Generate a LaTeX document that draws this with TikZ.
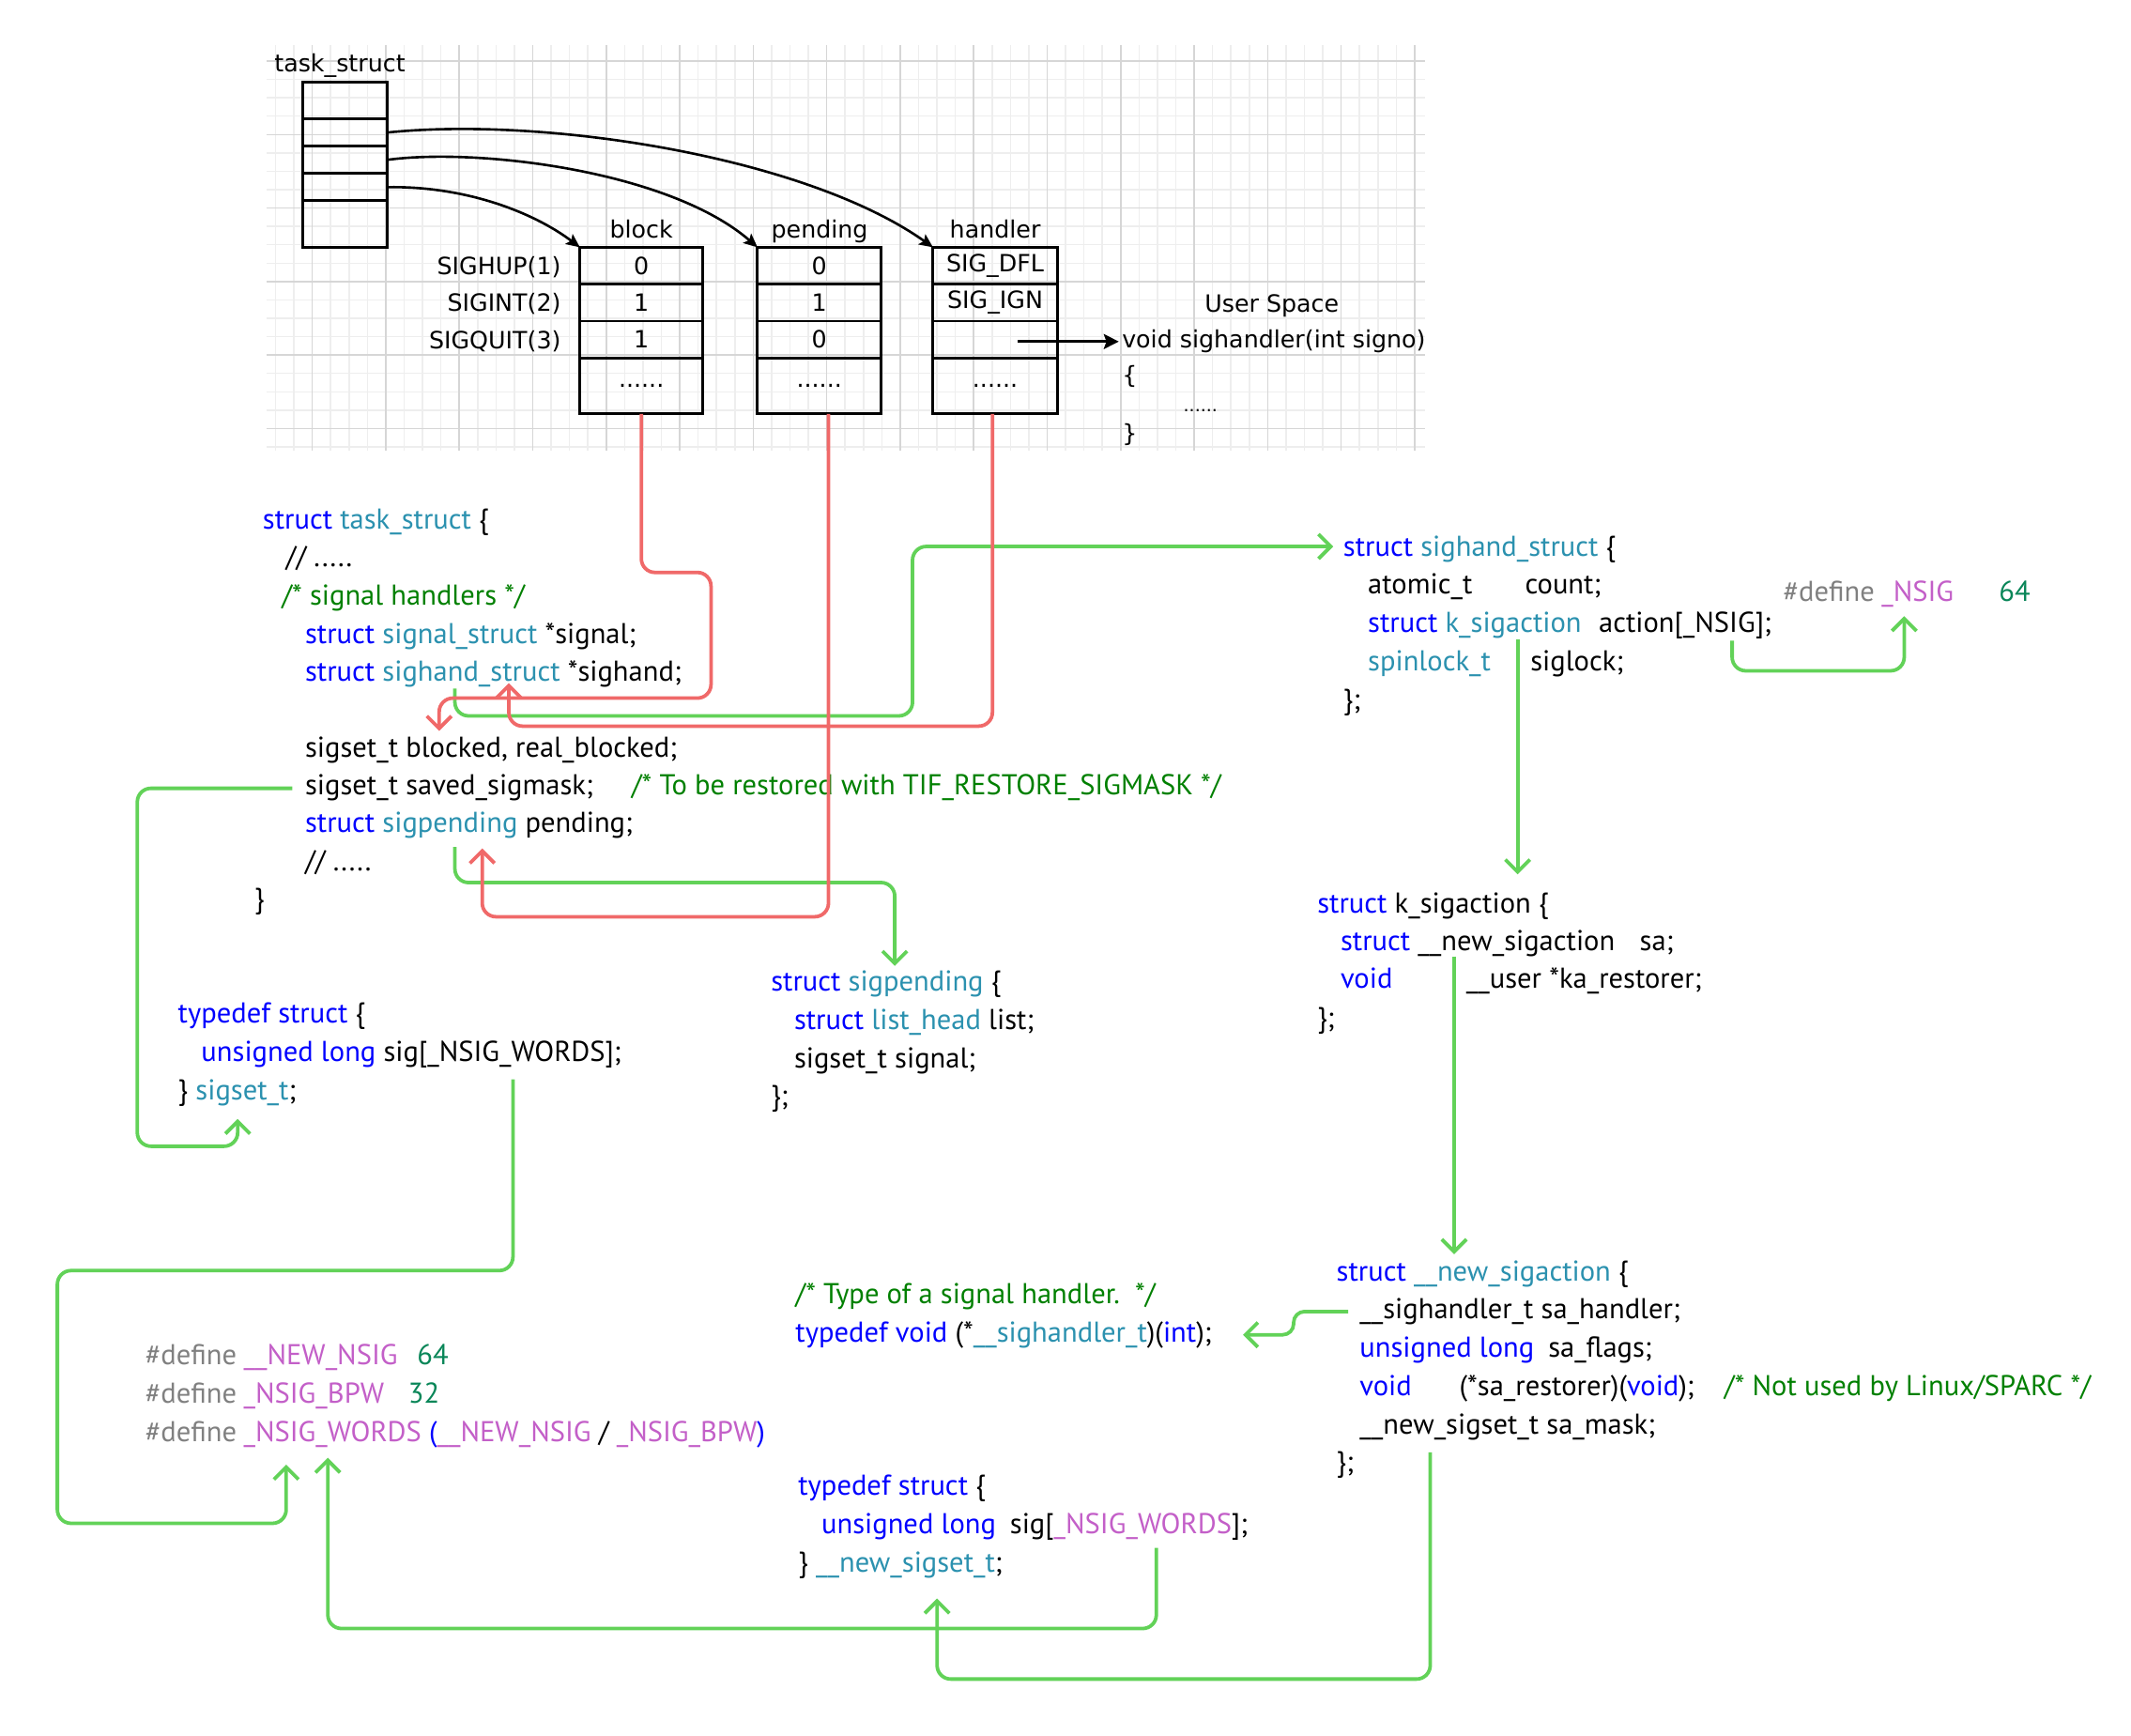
\documentclass[tikz,border=0pt]{standalone}
\usepackage{fontspec}
\setmainfont{PT Sans}
\newfontfamily\handfont{DejaVu Sans}
\usetikzlibrary{arrows.meta}
\definecolor{kwcol}{RGB}{0,0,255}
\definecolor{tycol}{RGB}{43,145,175}
\definecolor{cmcol}{RGB}{0,128,0}
\definecolor{ppcol}{RGB}{128,128,128}
\definecolor{mccol}{RGB}{195,95,200}
\definecolor{nmcol}{RGB}{9,134,88}
\definecolor{lgreen}{RGB}{98,210,88}
\definecolor{lred}{RGB}{240,105,105}
\definecolor{gmajor}{RGB}{214,214,214}
\definecolor{gminor}{RGB}{238,238,238}
\newcommand{\kwc}[1]{\textcolor{kwcol}{#1}}
\newcommand{\tyc}[1]{\textcolor{tycol}{#1}}
\newcommand{\cmc}[1]{\textcolor{cmcol}{#1}}
\newcommand{\ppc}[1]{\textcolor{ppcol}{#1}}
\newcommand{\mcc}[1]{\textcolor{mccol}{#1}}
\newcommand{\nmc}[1]{\textcolor{nmcol}{#1}}
\begin{document}
\begin{tikzpicture}[x=0.5pt,y=-0.5pt,
  code/.style={anchor=base west, inner sep=0pt, font=\fontsize{10.5}{12.5}\selectfont},
  hand/.style={inner sep=0pt, font=\handfont\fontsize{8.7}{10.5}\selectfont},
  cell/.style={draw, line width=1pt, inner sep=0pt, outer sep=0pt, anchor=north west, font=\handfont\fontsize{8.7}{10.5}\selectfont},
  blk/.style={line width=0.9pt, -{Stealth[length=5pt,width=4.5pt,inset=1pt]}},
  gline/.style={draw=lgreen, line width=1.3pt, rounded corners=5pt, -{Straight Barb[length=4.5pt,width=9pt]}},
  rline/.style={draw=lred, line width=1.3pt, rounded corners=5pt, -{Straight Barb[length=4.5pt,width=9pt]}},
  minorg/.style={draw=gminor, line width=0.5pt},
  majorg/.style={draw=gmajor, line width=0.5pt}]
\useasboundingbox (0,0) rectangle (1560,1270);
\fill[white] (0,0) rectangle (1560,1270);

% ---------- grid ----------
\foreach \k in {-2,...,60} \draw[minorg] ({228.6+13.45*\k},33) -- ({228.6+13.45*\k},330);
\foreach \k in {0,...,21} \draw[minorg] (195,{44.7+13.45*\k}) -- (1043,{44.7+13.45*\k});
\foreach \k in {0,...,15} \draw[majorg] ({228.6+53.8*\k},33) -- ({228.6+53.8*\k},330);
\foreach \k in {0,...,5} \draw[majorg] (195,{44.7+53.8*\k}) -- (1043,{44.7+53.8*\k});

% ---------- task_struct boxes ----------
\node[hand, anchor=base west] (tslabel) at (200.5,52.5) {task\_struct};
\node[cell, minimum width=31pt, minimum height=13.5pt] (t1) at (221.5,60) {};
\node[cell, minimum width=31pt, minimum height=10pt] (t2) at (221.5,87) {};
\node[cell, minimum width=31pt, minimum height=10pt] (t3) at (221.5,107) {};
\node[cell, minimum width=31pt, minimum height=10pt] (t4) at (221.5,127) {};
\node[cell, minimum width=31pt, minimum height=17pt] (t5) at (221.5,147) {};

\node[hand, anchor=base] (lblock) at (469.5,174) {block};
\node[hand, anchor=base] (lpend) at (600,174) {pending};
\node[hand, anchor=base] (lhand) at (728.5,174) {handler};

\node[hand, anchor=base east] (s1) at (411,201) {SIGHUP(1)};
\node[hand, anchor=base east] (s2) at (411,228) {SIGINT(2)};
\node[hand, anchor=base east] (s3) at (411,255) {SIGQUIT(3)};

\node[cell, minimum width=45pt, minimum height=13.5pt] (b1) at (424.5,181) {0};
\node[cell, minimum width=45pt, minimum height=13.5pt] (b2) at (424.5,208) {1};
\node[cell, minimum width=45pt, minimum height=13.5pt] (b3) at (424.5,235) {1};
\node[cell, minimum width=45pt, minimum height=20.5pt] (b4) at (424.5,262) {......};

\node[cell, minimum width=45.25pt, minimum height=13.5pt] (p1) at (554.5,181) {0};
\node[cell, minimum width=45.25pt, minimum height=13.5pt] (p2) at (554.5,208) {1};
\node[cell, minimum width=45.25pt, minimum height=13.5pt] (p3) at (554.5,235) {0};
\node[cell, minimum width=45.25pt, minimum height=20.5pt] (p4) at (554.5,262) {......};

\node[cell, minimum width=45.5pt, minimum height=13.5pt] (h1) at (683,181) {SIG\_DFL};
\node[cell, minimum width=45.5pt, minimum height=13.5pt] (h2) at (683,208) {SIG\_IGN};
\node[cell, minimum width=45.5pt, minimum height=13.5pt] (h3) at (683,235) {};
\node[cell, minimum width=45.5pt, minimum height=20.5pt] (h4) at (683,262) {......};

\draw[blk] (t2.east) .. controls (400,85) and (590,115) .. (h1.north west);
\draw[blk] (t3.east) .. controls (350,108) and (490,125) .. (p1.north west);
\draw[blk] (t4.east) .. controls (340,136) and (390,155) .. (b1.north west);

\node[hand, anchor=base west] (uspace) at (881.5,228.5) {User Space};
\node[hand, anchor=base west] (ush) at (821,254.5) {void sighandler(int signo)};
\node[hand, anchor=base west] (uob) at (821,281) {\{};
\node[hand, anchor=base west, font=\handfont\fontsize{6.5}{8}\selectfont] (udots) at (866,301) {......};
\node[hand, anchor=base west] (ucb) at (821,323) {\}};
\coordinate (harr) at (745,250);
\draw[line width=0.9pt, -{Stealth[length=5.5pt,width=5.5pt,inset=1pt]}] (harr) -- ([xshift=-1pt]ush.west |- harr);

% ---------- task_struct code ----------
\node[code] (ts1) at (192,387) {\kwc{struct} \tyc{task\_struct} \{};
\node[code] (ts2) at (209,415) {// .....};
\node[code] (ts3) at (206,443) {\cmc{/* signal handlers */}};
\node[code] (ts4) at (223,471) {\kwc{struct} \tyc{signal\_struct} *signal;};
\node[code] (ts5) at (223,498.5) {\kwc{struct} \tyc{sighand\_struct} *sighand;};
\node[code] (ts6) at (223,554.5) {sigset\_t blocked, real\_blocked;};
\node[code] (ts7) at (223,582) {sigset\_t saved\_sigmask;};
\node[code] (ts7c) at (462,582) {\cmc{/* To be restored with TIF\_RESTORE\_SIGMASK */}};
\node[code] (ts8) at (223,609.5) {\kwc{struct} \tyc{sigpending} pending;};
\node[code] (ts9) at (223,637.5) {// .....};
\node[code] (ts10) at (186,665) {\}};

% ---------- sighand_struct ----------
\node[code] (sh1) at (983,407) {\kwc{struct} \tyc{sighand\_struct} \{};
\node[code] (sh2a) at (1001,435) {atomic\_t};
\node[code] (sh2b) at (1116,435) {count;};
\node[code] (sh3a) at (1001,463) {\kwc{struct} \tyc{k\_sigaction}};
\node[code] (sh3b) at (1170,463) {action[\_NSIG];};
\node[code] (sh4a) at (1001,491) {\tyc{spinlock\_t}};
\node[code] (sh4b) at (1120,491) {siglock;};
\node[code] (sh5) at (983,519) {\};};
\node[code] (nd1) at (1305,440) {\ppc{\#define}};
\node[code] (nd2) at (1377,440) {\mcc{\_NSIG}};
\node[code] (nd3) at (1463,440) {\nmc{64}};

% ---------- k_sigaction ----------
\node[code] (ks1) at (964,668) {\kwc{struct} k\_sigaction \{};
\node[code] (ks2a) at (981,696) {\kwc{struct} \_\_new\_sigaction};
\node[code] (ks2b) at (1200,696) {sa;};
\node[code] (ks3a) at (981,723.5) {\kwc{void}};
\node[code] (ks3b) at (1073,723.5) {\_\_user *ka\_restorer;};
\node[code] (ks4) at (964,752) {\};};

% ---------- sigpending ----------
\node[code] (sp1) at (564,725.5) {\kwc{struct} \tyc{sigpending} \{};
\node[code] (sp2) at (581,753.5) {\kwc{struct} \tyc{list\_head} list;};
\node[code] (sp3) at (581,781.5) {sigset\_t signal;};
\node[code] (sp4) at (564,809.5) {\};};

% ---------- sigset_t ----------
\node[code] (st1) at (130,749) {\kwc{typedef struct} \{};
\node[code] (st2) at (147,777) {\kwc{unsigned long} sig[\_NSIG\_WORDS];};
\node[code] (st3) at (130,805) {\} \tyc{sigset\_t};};

% ---------- defines ----------
\node[code] (d1a) at (106,999) {\ppc{\#define}};
\node[code] (d1b) at (178,999) {\mcc{\_\_NEW\_NSIG}};
\node[code] (d1c) at (305,999) {\nmc{64}};
\node[code] (d2a) at (106,1027) {\ppc{\#define}};
\node[code] (d2b) at (178,1027) {\mcc{\_NSIG\_BPW}};
\node[code] (d2c) at (298.5,1027) {\nmc{32}};
\node[code] (d3a) at (106,1055) {\ppc{\#define}};
\node[code] (d3b) at (178,1055) {\mcc{\_NSIG\_WORDS} \kwc{(}\mcc{\_\_NEW\_NSIG} / \mcc{\_NSIG\_BPW}\kwc{)}};

% ---------- sighandler_t ----------
\node[code] (hs1) at (582,954.5) {\cmc{/* Type of a signal handler.\ \ */}};
\node[code] (hs2) at (582,982.5) {\kwc{typedef void} (*\tyc{\_\_sighandler\_t})(\kwc{int});};

% ---------- __new_sigaction ----------
\node[code] (ns1) at (978,937.5) {\kwc{struct} \tyc{\_\_new\_sigaction} \{};
\node[code] (ns2) at (995,965.5) {\_\_sighandler\_t sa\_handler;};
\node[code] (ns3a) at (995,993.5) {\kwc{unsigned long}};
\node[code] (ns3b) at (1133,993.5) {sa\_flags;};
\node[code] (ns4a) at (995,1021.5) {\kwc{void}};
\node[code] (ns4b) at (1068,1021.5) {(*sa\_restorer)(\kwc{void});};
\node[code] (ns4c) at (1262,1021.5) {\cmc{/* Not used by Linux/SPARC */}};
\node[code] (ns5) at (995,1049.5) {\_\_new\_sigset\_t sa\_mask;};
\node[code] (ns6) at (978,1077.5) {\};};

% ---------- __new_sigset_t ----------
\node[code] (nt1) at (584,1094.5) {\kwc{typedef struct} \{};
\node[code] (nt2a) at (601,1122.5) {\kwc{unsigned long}};
\node[code] (nt2b) at (739,1122.5) {sig[\mcc{\_NSIG\_WORDS}];};
\node[code] (nt3) at (584,1150.5) {\} \tyc{\_\_new\_sigset\_t};};

% ---------- green connectors ----------
\coordinate (g1s) at (333,504);   \coordinate (g1e) at (976,400);
\coordinate (g2s) at (333,620);   \coordinate (g2e) at (655,707);
\coordinate (g3s) at (214,577);   \coordinate (g3e) at (174,819);
\coordinate (g4s) at (375.5,790); \coordinate (g4e) at (209.5,1072);
\coordinate (g5s) at (846.5,1133);\coordinate (g5e) at (240,1067);
\coordinate (g6s) at (1047,1063); \coordinate (g6e) at (686,1170);
\coordinate (g7s) at (1111,468);  \coordinate (g7e) at (1111,640);
\coordinate (g8s) at (1268,469);  \coordinate (g8e) at (1394,451);
\coordinate (g9s) at (1064.5,700);\coordinate (g9e) at (1064.5,918);
\coordinate (g10s) at (987,960);  \coordinate (g10e) at (910,977);

\draw[gline] (g1s) -- (333,524) -- (668,524) -- (668,400) -- (g1e);
\draw[gline] (g2s) -- (333,646) -- (655,646) -- (g2e);
\draw[gline] (g3s) -- (100.5,577) -- (100.5,839) -- (174,839) -- (g3e);
\draw[gline] (g4s) -- (375.5,930) -- (42,930) -- (42,1115) -- (209.5,1115) -- (g4e);
\draw[gline] (g5s) -- (846.5,1192) -- (240,1192) -- (g5e);
\draw[gline] (g6s) -- (1047,1229) -- (686,1229) -- (g6e);
\draw[gline] (g7s) -- (g7e);
\draw[gline] (g8s) -- (1268,491) -- (1394,491) -- (g8e);
\draw[gline] (g9s) -- (g9e);
\draw[gline, rounded corners=4pt] (g10s) -- (947,960) -- (947,977) -- (g10e);

% ---------- red connectors ----------
\coordinate (r1s) at (b4.south);       \coordinate (r1e) at (321.5,535);
\coordinate (r2s) at (606.5,303);      \coordinate (r2e) at (353,621);
\coordinate (r3s) at (726.5,303);      \coordinate (r3e) at (372.5,500);
\draw[rline] (r1s) -- (469.5,419) -- (520.5,419) -- (520.5,511) -- (321.5,511) -- (r1e);
\draw[rline] (r2s) -- (606.5,671) -- (353,671) -- (r2e);
\draw[rline] (r3s) -- (726.5,531.5) -- (372.5,531.5) -- (r3e);
\end{tikzpicture}
\end{document}
